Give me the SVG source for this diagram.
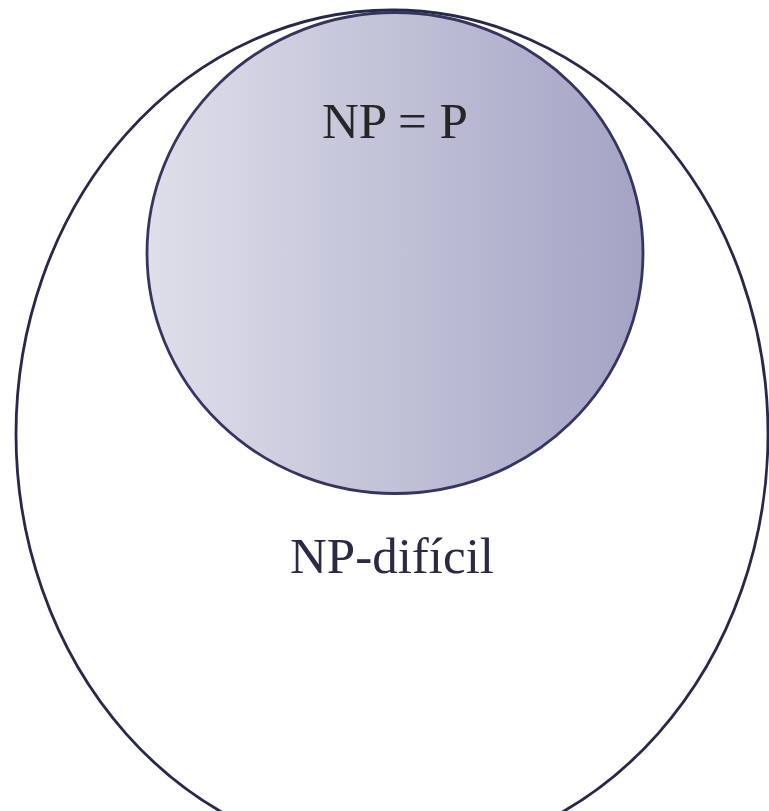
<svg xmlns="http://www.w3.org/2000/svg" width="769" height="811" viewBox="0 0 769 811">
  <style>
    .lbl { font-family: "Liberation Serif", "Times New Roman", serif; font-size: 51px; text-anchor: middle; }
  </style>
  <defs>
    <linearGradient id="g" x1="0" y1="0" x2="1" y2="0">
      <stop offset="0" stop-color="#dfdfea"/>
      <stop offset="1" stop-color="#a3a3c5"/>
    </linearGradient>
  </defs>
  <rect width="769" height="811" fill="#ffffff"/>
  <g id="np-dificil">
    <ellipse cx="392" cy="434" rx="376" ry="424" fill="none" stroke="#28284a" stroke-width="2.8"/>
    <text class="lbl" x="392" y="573" fill="#2a2a45">NP-difícil</text>
  </g>
  <g id="np-p">
    <ellipse cx="395" cy="253" rx="248" ry="240.5" fill="url(#g)" stroke="#35355f" stroke-width="2.8"/>
    <text class="lbl" x="395" y="138" fill="#262626">NP = P</text>
  </g>
  <g id="connectors"/>
</svg>
